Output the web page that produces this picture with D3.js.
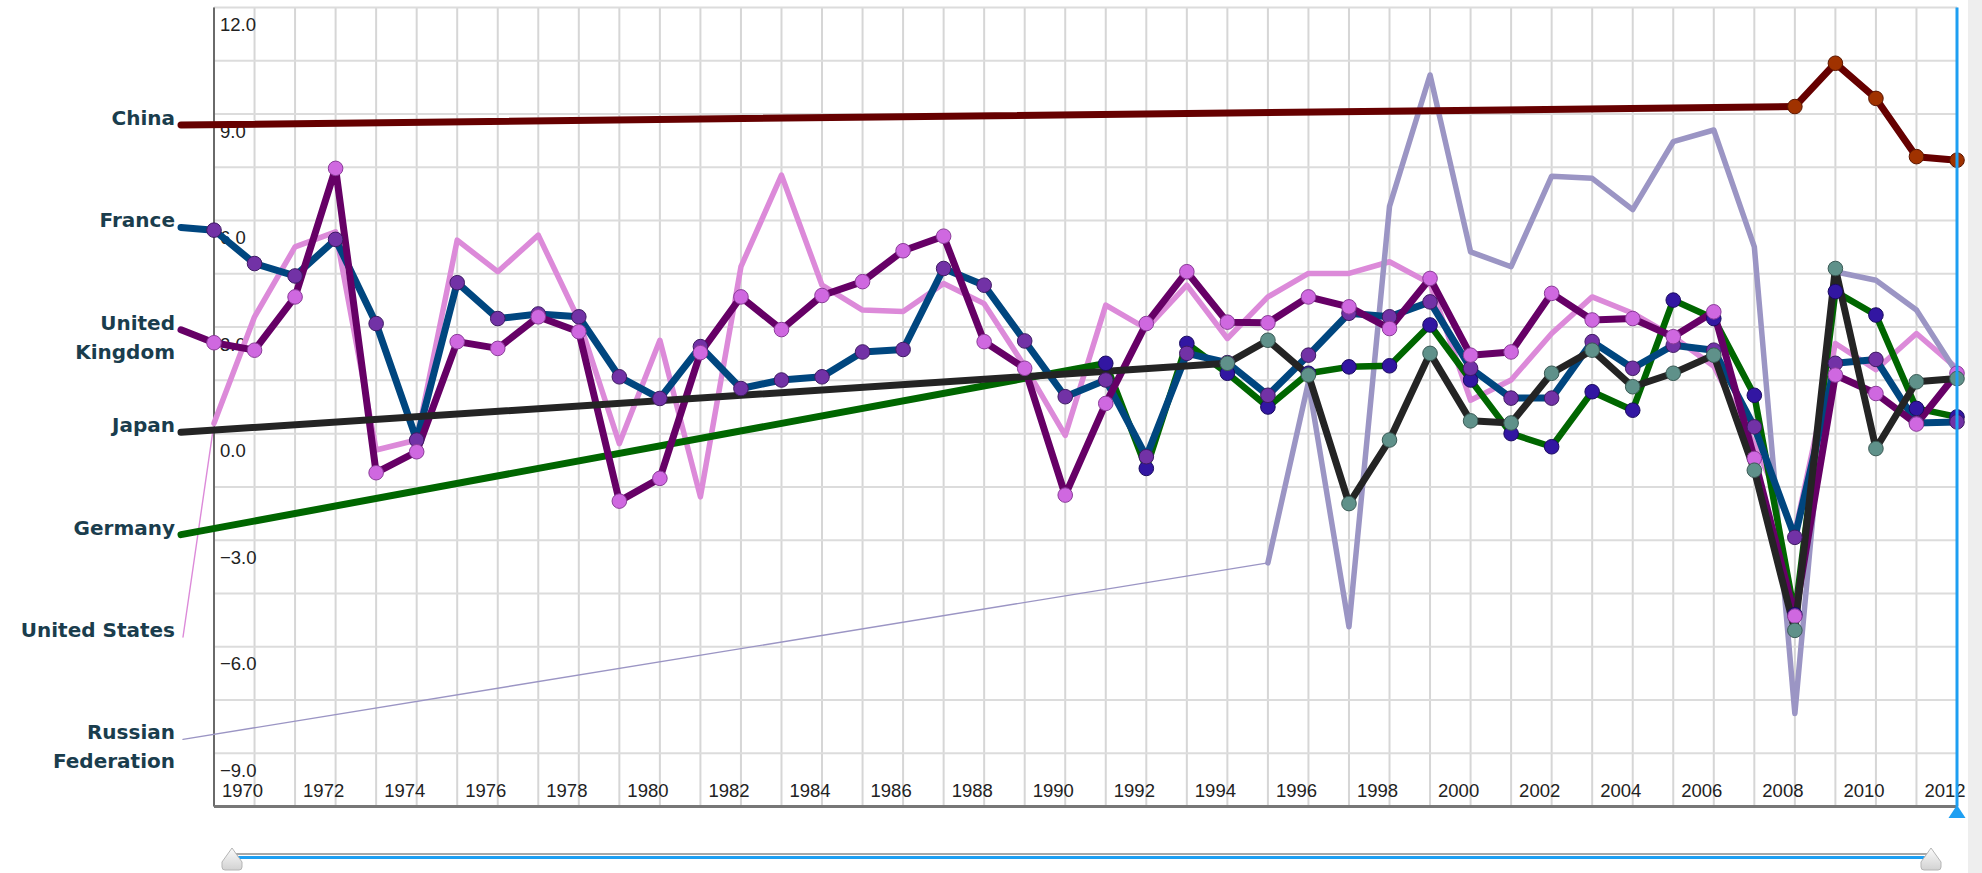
<!DOCTYPE html>
<html><head><meta charset="utf-8">
<script src="https://cdn.jsdelivr.net/npm/d3@7"></script>
<style>
html,body{margin:0;padding:0;background:#fff;overflow:hidden;}
svg{display:block;}
</style></head><body>
<svg id="chart" width="1982" height="873"></svg>
<script>
// ---------- DATA ----------
const years = d3.range(1970, 2014);
const xTickYears = d3.range(1970, 2013, 2);
const yTickValues = [12, 9, 6, 3, 0, -3, -6, -9];

const countries = ["China", "France", "United Kingdom", "Japan", "Germany", "United States", "Russian Federation"];
const labelLines = [["China"], ["France"], ["United", "Kingdom"], ["Japan"], ["Germany"], ["United States"], ["Russian", "Federation"]];

const chinaStart = 2009;
const chinaValues = [9.21, 10.43, 9.44, 7.80, 7.70];

const franceStart = 1970;
const franceValues = [5.73, 4.79, 4.44, 5.47, 3.10, -0.18, 4.25, 3.24, 3.37, 3.29,
  1.60, 0.99, 2.45, 1.27, 1.51, 1.60, 2.30, 2.37, 4.65, 4.18,
  2.61, 1.04, 1.51, -0.65, 2.26, 2.00, 1.08, 2.21, 3.39, 3.29,
  3.71, 1.84, 1.00, 1.00, 2.59, 1.84, 2.49, 2.35, 0.19, -2.92,
  1.98, 2.09, 0.30, 0.33];

const ukStart = 1970;
const ukValues = [2.56, 2.35, 3.85, 7.47, -1.10, -0.51, 2.59, 2.40, 3.29, 2.87,
  -1.90, -1.26, 2.28, 3.85, 2.93, 3.89, 4.28, 5.15, 5.56, 2.59,
  1.84, -1.73, 0.85, 3.10, 4.56, 3.14, 3.12, 3.85, 3.57, 2.96,
  4.37, 2.21, 2.30, 3.95, 3.20, 3.24, 2.73, 3.43, -0.70, -5.14,
  1.65, 1.13, 0.27, 1.70];

const japanStart = 1995;
const japanValues = [1.98, 2.63, 1.65, -1.97, -0.18, 2.26, 0.36, 0.30, 1.70, 2.35,
  1.32, 1.70, 2.21, -1.03, -5.54, 4.65, -0.42, 1.46, 1.55];

const germanyStart = 1992;
const germanyValues = [1.98, -0.98, 2.54, 1.70, 0.75, 1.70, 1.88, 1.91, 3.06, 1.51,
  0.00, -0.37, 1.18, 0.66, 3.76, 3.24, 1.08, -5.10, 4.00, 3.34,
  0.71, 0.47];

const usStart = 1970;
const usValues = [0.29, 3.29, 5.26, 5.68, -0.46, -0.18, 5.45, 4.56, 5.59, 3.20,
  -0.28, 2.63, -1.78, 4.70, 7.28, 4.18, 3.48, 3.44, 4.23, 3.66,
  1.90, -0.05, 3.62, 2.96, 4.18, 2.68, 3.85, 4.51, 4.51, 4.84,
  4.23, 0.94, 1.51, 2.82, 3.85, 3.39, 2.73, 1.90, -0.30, -2.80,
  2.54, 1.80, 2.82, 1.84];

const russiaStart = 1996;
const russiaValues = [-3.64, 1.45, -5.44, 6.40, 10.10, 5.12, 4.70, 7.25, 7.19, 6.31,
  8.22, 8.55, 5.26, -7.88, 4.56, 4.32, 3.48, 1.70];

// ---------- STYLES ----------
const styles = {
  "China":              {line: "#660000", width: 7, dot: "#a03200", dotStroke: "#5a1500", connW: 7, dots: true},
  "France":             {line: "#00467f", width: 7, dot: "#7232a6", dotStroke: "#3e1a63", connW: 7, dots: true},
  "United Kingdom":     {line: "#660066", width: 7, dot: "#cf68e0", dotStroke: "#8a3c98", connW: 7, dots: true},
  "Japan":              {line: "#242424", width: 7, dot: "#5f918a", dotStroke: "#3a5a55", connW: 7, dots: true},
  "Germany":            {line: "#006600", width: 6.5, dot: "#3216a2", dotStroke: "#1a0a60", connW: 7, dots: true},
  "United States":      {line: "#dc8ad9", width: 5.5, connW: 1.4, dots: false},
  "Russian Federation": {line: "#9b95c4", width: 5.5, connW: 1.4, dots: false}
};

const toSeries = (start, vals) => vals.map((v, i) => ({year: start + i, value: v}));
const seriesData = {
  "China": toSeries(chinaStart, chinaValues),
  "France": toSeries(franceStart, franceValues),
  "United Kingdom": toSeries(ukStart, ukValues),
  "Japan": toSeries(japanStart, japanValues),
  "Germany": toSeries(germanyStart, germanyValues),
  "United States": toSeries(usStart, usValues),
  "Russian Federation": toSeries(russiaStart, russiaValues)
};

// ---------- LAYOUT ----------
const svg = d3.select("#chart");
const x = d3.scaleLinear().domain([1970, 2013]).range([214, 1957]);
const y = d3.scaleLinear().domain([-10.5, 12]).range([806.5, 7.5]);

// right gray strip
svg.append("rect").attr("x", 1968).attr("y", 0).attr("width", 14).attr("height", 873).attr("fill", "#eeeeee");

// grid
const grid = svg.append("g");
grid.selectAll("line.v").data(years).join("line")
  .attr("x1", d => x(d)).attr("x2", d => x(d))
  .attr("y1", y(12)).attr("y2", y(-10.5))
  .attr("stroke", "#d6d6d6").attr("stroke-width", 2);
grid.selectAll("line.h").data(d3.range(-9, 12.01, 1.5)).join("line")
  .attr("x1", x(1970)).attr("x2", x(2013))
  .attr("y1", d => y(d)).attr("y2", d => y(d))
  .attr("stroke", "#dcdcdc").attr("stroke-width", 2);

// axes lines
svg.append("line").attr("x1", x(1970)).attr("x2", x(1970)).attr("y1", y(12)).attr("y2", y(-10.5))
  .attr("stroke", "#6a6a6a").attr("stroke-width", 2);
svg.append("line").attr("x1", x(1970)).attr("x2", x(2013)).attr("y1", y(-10.5)).attr("y2", y(-10.5))
  .attr("stroke", "#777").attr("stroke-width", 3);

// tick labels
svg.append("g").selectAll("text").data(yTickValues).join("text")
  .attr("x", x(1970) + 6).attr("y", d => y(d) + 23.5)
  .attr("font-family", "'Liberation Sans', Arial, sans-serif").attr("font-size", 18.5)
  .attr("fill", "#222").text(d => d3.format(".1f")(d));
svg.append("g").selectAll("text").data(xTickYears).join("text")
  .attr("x", d => x(d) + 8).attr("y", 797)
  .attr("font-family", "'Liberation Sans', Arial, sans-serif").attr("font-size", 18.5)
  .attr("fill", "#222").text(d => d);

// labels + connectors
const labelRight = 175, anchor0 = 125, anchorStep = 102.4;
const line = d3.line().x(d => x(d.year)).y(d => y(d.value));

const drawOrder = ["United States", "Russian Federation", "China", "Germany", "France", "United Kingdom", "Japan"];
const lineG = svg.append("g");
drawOrder.forEach(name => {
  const i = countries.indexOf(name);
  const st = styles[name];
  const data = seriesData[name];
  const ay = anchor0 + i * anchorStep;
  const first = data[0];
  lineG.append("path")
    .attr("d", `M${labelRight + (st.connW > 3 ? 6 : 8)},${ay}L${x(first.year)},${y(first.value)}`)
    .attr("fill", "none").attr("stroke", st.line).attr("stroke-width", st.connW)
    .attr("stroke-linecap", "round");
  lineG.append("path").datum(data).attr("d", line)
    .attr("fill", "none").attr("stroke", st.line).attr("stroke-width", st.width)
    .attr("stroke-linejoin", "round").attr("stroke-linecap", "round");
});

const dotOrder = ["China", "Germany", "France", "United Kingdom", "Japan"];
const dotG = svg.append("g");
dotOrder.forEach(name => {
  const st = styles[name];
  dotG.append("g").selectAll("circle").data(seriesData[name]).join("circle")
    .attr("cx", d => x(d.year)).attr("cy", d => y(d.value)).attr("r", 7.3)
    .attr("fill", st.dot).attr("stroke", st.dotStroke).attr("stroke-width", 1);
});

// country labels
const labG = svg.append("g");
countries.forEach((name, i) => {
  const ay = anchor0 + i * anchorStep;
  labelLines[i].forEach((t, j) => {
    labG.append("text").attr("x", labelRight).attr("y", ay + j * 29)
      .attr("text-anchor", "end")
      .attr("font-family", "'DejaVu Sans', sans-serif").attr("font-weight", "bold")
      .attr("font-size", 20).attr("fill", "#1a3d4d").text(t);
  });
});

// time cursor (blue line)
svg.append("line").attr("x1", x(2013)).attr("x2", x(2013)).attr("y1", y(12)).attr("y2", y(-10.5))
  .attr("stroke", "#1e9ff2").attr("stroke-width", 3);
svg.append("path").attr("d", `M${x(2013)},805L${x(2013) - 8.5},818L${x(2013) + 8.5},818Z`).attr("fill", "#1e9ff2");

// slider
const defs = svg.append("defs");
const grad = defs.append("linearGradient").attr("id", "thumbGrad").attr("x1", 0).attr("y1", 0).attr("x2", 0).attr("y2", 1);
grad.append("stop").attr("offset", "0%").attr("stop-color", "#fbfbfb");
grad.append("stop").attr("offset", "100%").attr("stop-color", "#d2d2d2");
svg.append("line").attr("x1", 232).attr("x2", 1931).attr("y1", 854).attr("y2", 854).attr("stroke", "#a8a8a8").attr("stroke-width", 2);
svg.append("line").attr("x1", 232).attr("x2", 1931).attr("y1", 857.5).attr("y2", 857.5).attr("stroke", "#1e9ff2").attr("stroke-width", 3);
[232, 1931].forEach(cx => {
  svg.append("path")
    .attr("d", `M${cx},848L${cx + 10},862L${cx + 10},867Q${cx + 10},870 ${cx + 7},870L${cx - 7},870Q${cx - 10},870 ${cx - 10},867L${cx - 10},862Z`)
    .attr("fill", "url(#thumbGrad)").attr("stroke", "#b5b5b5").attr("stroke-width", 1);
});
</script>
</body></html>
